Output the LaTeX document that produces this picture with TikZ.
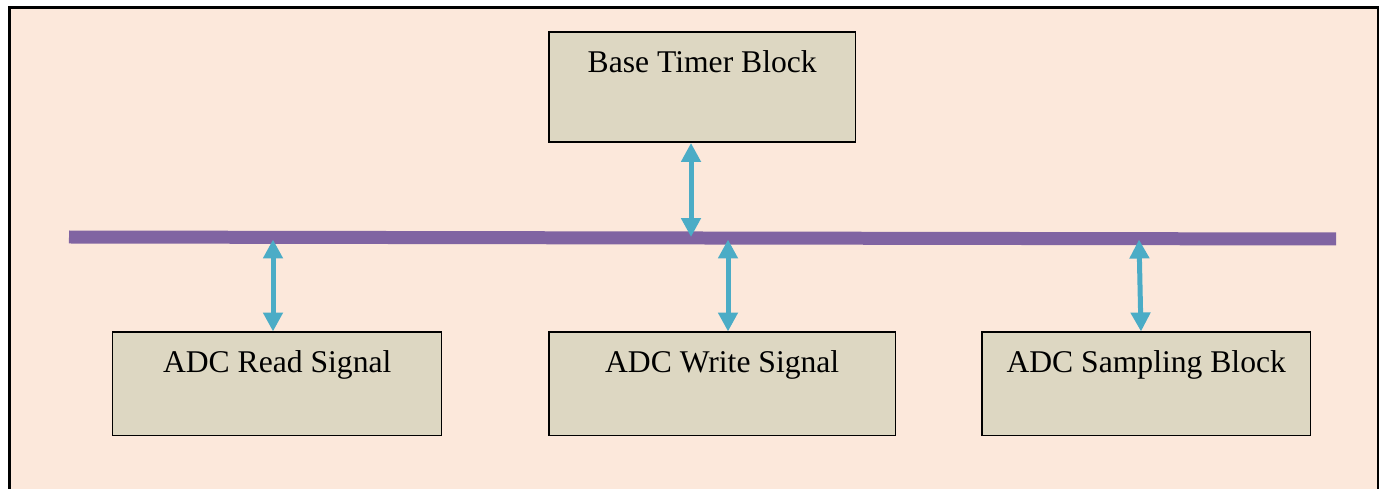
\documentclass[tikz,border=0pt]{standalone}
\usepackage{fontspec}
\setmainfont{Liberation Serif}
\usetikzlibrary{arrows.meta}

\definecolor{pagebg}{HTML}{FCE8DB}
\definecolor{blockfill}{HTML}{DDD7C2}
\definecolor{busviolet}{HTML}{8064A2}
\definecolor{linkblue}{HTML}{4BACC6}

\begin{document}
\begin{tikzpicture}[x=0.02cm, y=-0.02cm,
    block/.style={draw, fill=blockfill, line width=0.85pt, inner sep=0pt,
        anchor=north west, font=\fontsize{18}{22}\selectfont, text height=0.8cm},
    link/.style={draw=linkblue, line width=0.1cm,
        {Triangle[width=0.38cm, length=0.38cm]}-{Triangle[width=0.38cm, length=0.38cm]}}]
    % Fond et cadre
    \useasboundingbox (0,0) rectangle (1379,489);
    \fill[pagebg] (9.5,8) rectangle (1379,489);
    \draw[line width=0.06cm] (9.5,495) -- (9.5,8) -- (1378,8) -- (1378,495);

    % Bus
    \coordinate (busW) at (69,237);
    \coordinate (busE) at (1336,239);
    \draw[busviolet, line width=0.26cm] (busW) -- (busE);

    % Blocs
    \node[block, minimum width=6.14cm, text depth=1.4cm] (timer) at (548,31.5) {Base Timer Block};
    \node[block, minimum width=6.58cm, text depth=1.27cm] (read) at (112,331.5) {ADC Read Signal};
    \node[block, minimum width=6.94cm, text depth=1.27cm] (write) at (548,331.5) {ADC Write Signal};
    \node[block, minimum width=6.58cm, text depth=1.27cm] (sampling) at (981,331.5) {ADC Sampling Block};

    % Liaisons avec le bus
    \coordinate (tapTimer) at (691,237);
    \coordinate (tapRead) at (273,239.5);
    \coordinate (tapWrite) at (728,239.5);
    \coordinate (tapSampling) at (1139,239.5);

    \draw[link] (timer.south -| tapTimer) -- (tapTimer);
    \draw[link] (tapRead) -- (tapRead |- read.north);
    \draw[link] (tapWrite) -- (tapWrite |- write.north);
    \draw[link] (tapSampling) -- ([xshift=0.04cm]tapSampling |- sampling.north);
\end{tikzpicture}
\end{document}
